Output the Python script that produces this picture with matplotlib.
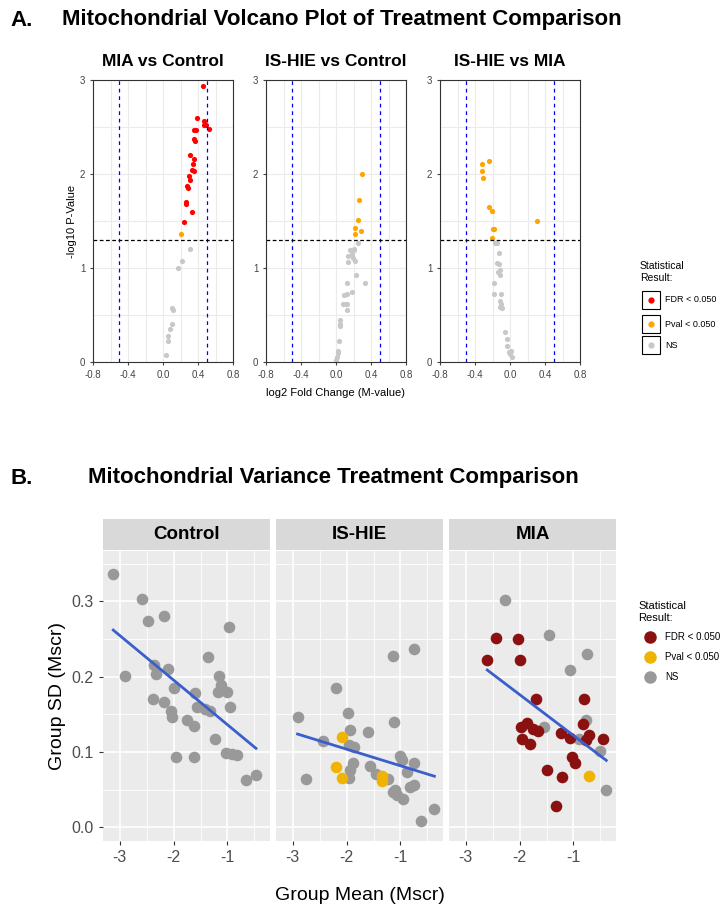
import matplotlib.pyplot as plt
from matplotlib.lines import Line2D
import numpy as np

plt.rcParams['font.family'] = ['Liberation Sans', 'DejaVu Sans']
plt.rcParams['axes.unicode_minus'] = False

# ---- panel A data: (log2 FC, -log10 p) ----
a_titles = ['MIA vs Control', 'IS-HIE vs Control', 'IS-HIE vs MIA']
a_fdr = [
    [(0.46, 2.94), (0.39, 2.6), (0.47, 2.56), (0.47, 2.52), (0.49, 2.52), (0.53, 2.48),
     (0.35, 2.47), (0.38, 2.47), (0.35, 2.37), (0.37, 2.35), (0.31, 2.2), (0.35, 2.16),
     (0.34, 2.11), (0.33, 2.04), (0.35, 2.03), (0.3, 1.98), (0.31, 1.94), (0.27, 1.87),
     (0.29, 1.85), (0.26, 1.7), (0.26, 1.68), (0.33, 1.6), (0.24, 1.49)],
    [],
    [],
]
a_pval = [
    [(0.21, 1.36)],
    [(0.3, 2.0), (0.26, 1.72), (0.25, 1.51), (0.22, 1.43), (0.28, 1.39), (0.22, 1.36)],
    [(-0.32, 2.11), (-0.24, 2.14), (-0.32, 2.03), (-0.31, 1.96), (-0.24, 1.65), (-0.21, 1.61),
     (-0.19, 1.42), (-0.18, 1.42), (-0.21, 1.32), (0.31, 1.5)],
]
a_ns = [
    [(0.31, 1.2), (0.22, 1.07), (0.17, 1.0), (0.1, 0.57), (0.11, 0.55), (0.1, 0.4),
     (0.08, 0.35), (0.06, 0.28), (0.06, 0.22), (0.03, 0.07)],
    [(0.25, 1.27), (0.2, 1.2), (0.21, 1.19), (0.16, 1.19), (0.18, 1.15), (0.14, 1.13),
     (0.19, 1.11), (0.14, 1.06), (0.22, 1.07), (0.23, 0.93), (0.33, 0.84), (0.13, 0.84),
     (0.18, 0.75), (0.09, 0.71), (0.12, 0.72), (0.08, 0.62), (0.11, 0.62), (0.13, 0.62),
     (0.12, 0.55), (0.05, 0.45), (0.04, 0.4), (0.04, 0.38), (0.03, 0.22), (0.02, 0.12),
     (0.02, 0.1), (0.01, 0.05), (0.0, 0.02)],
    [(-0.17, 1.27), (-0.15, 1.27), (-0.13, 1.16), (-0.15, 1.05), (-0.13, 1.04), (-0.14, 0.96),
     (-0.12, 0.93), (-0.12, 0.98), (-0.18, 0.84), (-0.18, 0.72), (-0.1, 0.72), (-0.12, 0.65),
     (-0.1, 0.62), (-0.11, 0.58), (-0.09, 0.57), (-0.06, 0.32), (-0.03, 0.25), (-0.03, 0.17),
     (-0.01, 0.11), (0.0, 0.08), (0.02, 0.05), (0.01, 0.12)],
]

# ---- panel B data: (group mean, group SD) ----
b_titles = ['Control', 'IS-HIE', 'MIA']
b_ns = [
    [(-3.12, 0.337), (-2.59, 0.303), (-2.48, 0.274), (-2.17, 0.281), (-0.98, 0.266), (-2.9, 0.201),
     (-2.36, 0.216), (-2.32, 0.204), (-2.1, 0.21), (-1.36, 0.226), (-1.15, 0.201), (-2.0, 0.185),
     (-1.6, 0.178), (-1.12, 0.189), (-1.17, 0.18), (-1.0, 0.18), (-2.39, 0.17), (-2.17, 0.167),
     (-2.04, 0.154), (-2.03, 0.147), (-1.75, 0.143), (-1.63, 0.135), (-1.56, 0.16), (-1.42, 0.157),
     (-1.32, 0.154), (-0.95, 0.16), (-1.24, 0.117), (-1.95, 0.093), (-1.62, 0.094), (-1.03, 0.099),
     (-0.91, 0.097), (-0.83, 0.096), (-0.65, 0.063), (-0.47, 0.069)],
    [(-2.91, 0.146), (-2.75, 0.064), (-2.43, 0.115), (-2.2, 0.185), (-1.97, 0.152), (-1.93, 0.129),
     (-1.95, 0.11), (-1.87, 0.107), (-1.88, 0.086), (-1.93, 0.076), (-1.96, 0.066), (-1.6, 0.127),
     (-1.57, 0.082), (-1.45, 0.071), (-1.24, 0.064), (-1.14, 0.228), (-1.12, 0.14), (-1.0, 0.095),
     (-0.98, 0.089), (-0.75, 0.237), (-0.75, 0.085), (-0.88, 0.074), (-1.13, 0.047), (-1.07, 0.043),
     (-1.1, 0.05), (-0.96, 0.038), (-0.83, 0.054), (-0.74, 0.056), (-0.62, 0.008), (-0.37, 0.024)],
    [(-2.27, 0.302), (-1.45, 0.255), (-0.74, 0.23), (-1.06, 0.209), (-0.77, 0.142), (-1.54, 0.133),
     (-0.89, 0.117), (-0.5, 0.102), (-0.39, 0.05)],
]
b_pval = [
    [],
    [(-2.09, 0.12), (-2.2, 0.08), (-2.09, 0.065), (-1.34, 0.068), (-1.34, 0.061)],
    [(-0.72, 0.068)],
]
b_fdr = [
    [],
    [],
    [(-2.6, 0.222), (-2.43, 0.251), (-2.03, 0.25), (-1.99, 0.222), (-1.7, 0.17), (-0.81, 0.171),
     (-1.98, 0.133), (-1.87, 0.138), (-1.75, 0.131), (-1.65, 0.128), (-1.95, 0.117), (-1.8, 0.111),
     (-1.23, 0.126), (-1.07, 0.119), (-0.83, 0.137), (-0.72, 0.123), (-0.77, 0.116), (-0.45, 0.118),
     (-1.02, 0.093), (-0.98, 0.085), (-1.49, 0.076), (-1.22, 0.067), (-1.33, 0.029)],
]
b_fit = [[(-3.12, 0.262), (-0.47, 0.105)], [(-2.91, 0.124), (-0.37, 0.068)], [(-2.6, 0.209), (-0.39, 0.089)]]

fig = plt.figure(figsize=(7.28, 9.19), dpi=100)
W, H = 728, 919


def rect(x0, y0, x1, y1):
    return [x0 / W, 1 - y1 / H, (x1 - x0) / W, (y1 - y0) / H]


def pts(ax, data, **kw):
    if data:
        d = np.array(data)
        ax.scatter(d[:, 0], d[:, 1], **kw)


# ---------- A ----------
fig.text(10 / W, 1 - 20 / H, 'A.', fontsize=16, fontweight='bold', va='center')
fig.text(62 / W, 1 - 20 / H, 'Mitochondrial Volcano Plot of Treatment Comparison',
         fontsize=16, fontweight='bold', va='center')
a_left = [93, 266, 440]
for i in range(3):
    ax = fig.add_axes(rect(a_left[i], 80, a_left[i] + 140, 362))
    ax.set_xlim(-0.8, 0.8)
    ax.set_ylim(0, 3)
    ax.set_xticks(np.arange(-0.8, 0.81, 0.4))
    ax.set_xticks(np.arange(-0.6, 0.61, 0.4), minor=True)
    ax.set_yticks([0, 1, 2, 3])
    ax.set_yticks([0.5, 1.5, 2.5], minor=True)
    ax.grid(True, which='both', color='#ebebeb', lw=0.8)
    ax.set_axisbelow(True)
    for s in ax.spines.values():
        s.set_color('#333333')
    ax.tick_params(labelsize=7, colors='#444444', length=2)
    ax.tick_params(which='minor', length=0)
    ax.axvline(-0.5, color='blue', ls='--', lw=0.9, dashes=(3, 3))
    ax.axvline(0.5, color='blue', ls='--', lw=0.9, dashes=(3, 3))
    ax.axhline(1.3, color='black', ls='--', lw=0.9, dashes=(3, 2))
    pts(ax, a_ns[i], s=14, color='#c8c8c8', lw=0)
    pts(ax, a_pval[i], s=14, color='#ffa500', lw=0)
    pts(ax, a_fdr[i], s=14, color='#ff0000', lw=0)
    ax.set_title(a_titles[i], fontsize=12.5, fontweight='bold', pad=10)
    if i == 0:
        ax.set_ylabel('-log10 P-Value', fontsize=8, labelpad=2)
    if i == 1:
        ax.set_xlabel('log2 Fold Change (M-value)', fontsize=8, labelpad=6)

fig.text(640 / W, 1 - 272 / H, 'Statistical\nResult:', fontsize=7.5, va='center')
leg_a = [('#ff0000', 'FDR < 0.050', 300), ('#ffa500', 'Pval < 0.050', 324), ('#c8c8c8', 'NS', 345)]
for c, lab, yy in leg_a:
    fig.patches.append(plt.Rectangle((642 / W, 1 - (yy + 9) / H), 18 / W, 18 / H,
                                     transform=fig.transFigure, fill=False, ec='black', lw=0.8))
    fig.lines.append(Line2D([651 / W], [1 - yy / H], marker='o', ms=3.5, color=c, ls='',
                            transform=fig.transFigure))
    fig.text(665 / W, 1 - yy / H, lab, fontsize=6.5, va='center')

# ---------- B ----------
fig.text(10 / W, 1 - 478 / H, 'B.', fontsize=16, fontweight='bold', va='center')
fig.text(88 / W, 1 - 478 / H, 'Mitochondrial Variance Treatment Comparison',
         fontsize=16, fontweight='bold', va='center')
b_left = [103, 276, 449]
for i in range(3):
    ax = fig.add_axes(rect(b_left[i], 551, b_left[i] + 167, 841))
    ax.set_facecolor('#ebebeb')
    ax.set_xlim(-3.31, -0.21)
    ax.set_ylim(-0.018, 0.367)
    ax.set_xticks([-3, -2, -1])
    ax.set_xticks([-2.5, -1.5, -0.5], minor=True)
    ax.set_yticks([0, 0.1, 0.2, 0.3])
    ax.set_yticks([0.05, 0.15, 0.25, 0.35], minor=True)
    ax.grid(True, which='major', color='white', lw=1.2)
    ax.grid(True, which='minor', color='white', lw=0.6)
    ax.set_axisbelow(True)
    for s in ax.spines.values():
        s.set_visible(False)
    ax.tick_params(labelsize=11.5, colors='#4d4d4d', length=3, color='#333333')
    ax.tick_params(which='minor', length=0)
    if i > 0:
        ax.tick_params(labelleft=False, left=False)
    pts(ax, b_ns[i], s=70, color='#999999', lw=0)
    pts(ax, b_pval[i], s=70, color='#f0b400', lw=0)
    pts(ax, b_fdr[i], s=70, color='#8b1010', lw=0)
    f = np.array(b_fit[i])
    ax.plot(f[:, 0], f[:, 1], color='#3a5fcd', lw=2)
    if i == 0:
        ax.set_ylabel('Group SD (Mscr)', fontsize=14, labelpad=4)
    strip = fig.add_axes(rect(b_left[i], 519, b_left[i] + 167, 550))
    strip.set_facecolor('#d9d9d9')
    strip.set_xticks([])
    strip.set_yticks([])
    for s in strip.spines.values():
        s.set_visible(False)
    strip.text(0.5, 0.5, b_titles[i], ha='center', va='center', fontsize=13.5, fontweight='bold',
               transform=strip.transAxes)

fig.text(360 / W, 1 - 895 / H, 'Group Mean (Mscr)', fontsize=14, ha='center', va='center')
fig.text(638 / W, 1 - 612 / H, 'Statistical\nResult:', fontsize=8, va='center')
leg_b = [('#8b1010', 'FDR < 0.050', 637), ('#f0b400', 'Pval < 0.050', 657), ('#999999', 'NS', 677)]
for c, lab, yy in leg_b:
    fig.lines.append(Line2D([650 / W], [1 - yy / H], marker='o', ms=8, color=c, ls='',
                            transform=fig.transFigure))
    fig.text(665 / W, 1 - yy / H, lab, fontsize=7, va='center')

fig.savefig('out.png', dpi=100)
